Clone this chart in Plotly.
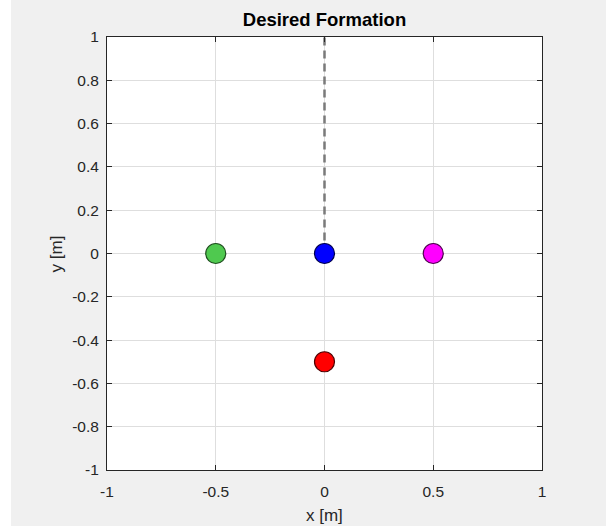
import plotly.graph_objects as go

# Data
robot_x = [-0.5, 0.0, 0.5, 0.0]
robot_y = [0.0, 0.0, 0.0, -0.5]
robot_colors = ["#4fc94f", "#0000ff", "#ff00ff", "#ff0000"]
robot_edges = ["#1f4f1f", "#00004f", "#4f004f", "#4f0000"]
heading_x = [0.0, 0.0]
heading_y = [0.0, 1.0]
tick_vals_x = [-1, -0.5, 0, 0.5, 1]
tick_text_x = ["-1", "-0.5", "0", "0.5", "1"]
tick_vals_y = [-1, -0.8, -0.6, -0.4, -0.2, 0, 0.2, 0.4, 0.6, 0.8, 1]
tick_text_y = ["-1", "-0.8", "-0.6", "-0.4", "-0.2", "0", "0.2", "0.4", "0.6", "0.8", "1"]

FONT = "Liberation Sans, Arial, Helvetica"

fig = go.Figure()
fig.add_trace(go.Scatter(x=heading_x, y=heading_y, mode="lines",
                         line=dict(color="#7a7a7a", width=2.5, dash="8px,5px"),
                         showlegend=False, hoverinfo="skip"))
fig.add_trace(go.Scatter(x=robot_x, y=robot_y, mode="markers",
                         marker=dict(size=20, color=robot_colors,
                                     line=dict(color=robot_edges, width=1.2)),
                         showlegend=False))

axis_common = dict(showline=True, linecolor="#262626", linewidth=1, mirror="ticks",
                   ticks="inside", ticklen=5, tickcolor="#262626",
                   showgrid=True, gridcolor="#dedede", gridwidth=1, automargin=False,
                   zeroline=False, tickfont=dict(family=FONT, size=15.5, color="#262626"))

fig.update_layout(
    width=606, height=526,
    margin=dict(l=107, r=64, t=37, b=56),
    paper_bgcolor="#f0f0f0", plot_bgcolor="#ffffff",
    title=dict(text="<b>Desired Formation</b>", xref="paper", x=0.5, xanchor="center",
               y=0.963, yanchor="middle",
               font=dict(family=FONT, size=18.5, color="#000000")),
    xaxis=dict(range=[-1, 1], tickvals=tick_vals_x, ticktext=tick_text_x, ticklabelstandoff=7,
               **axis_common),
    yaxis=dict(range=[-1, 1], tickvals=tick_vals_y, ticktext=tick_text_y, ticklabelstandoff=4,
               **axis_common),
    annotations=[
        dict(text="x [m]", xref="paper", yref="paper", x=0.5, y=-0.104, xanchor="center",
             yanchor="middle", showarrow=False, font=dict(family=FONT, size=17, color="#262626")),
        dict(text="y [m]", xref="paper", yref="paper", x=-0.115, y=0.5, xanchor="center",
             yanchor="middle", textangle=-90, showarrow=False,
             font=dict(family=FONT, size=17, color="#262626")),
    ],
    shapes=[dict(type="rect", xref="paper", yref="paper", x0=-0.246, x1=-0.2207, y0=-0.2, y1=1.1,
                 fillcolor="#ffffff", line=dict(width=0), layer="above")],
)

fig.write_html("out.html")
